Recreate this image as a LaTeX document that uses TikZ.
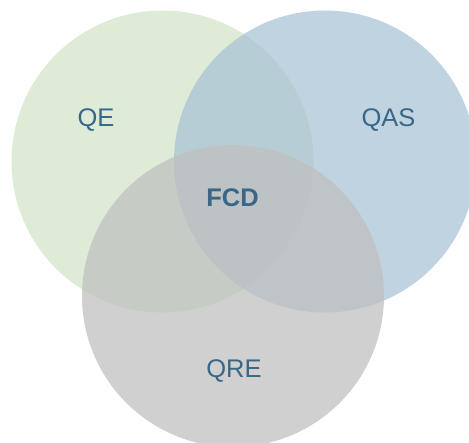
\documentclass[tikz,border=0pt]{standalone}
\usepackage{fontspec}
\setmainfont{Liberation Sans}
\definecolor{cgreen}{RGB}{210,228,202}
\definecolor{cblue}{RGB}{171,196,214}
\definecolor{cgray}{RGB}{192,192,192}
\definecolor{ctext}{RGB}{58,102,135}
\tikzset{
  venn/.style={fill opacity=0.75, draw=none},
  lbl/.style={text=ctext, font=\fontsize{25.5}{28}\selectfont, inner sep=0pt}
}
\begin{document}
\begin{tikzpicture}[x=1pt,y=-1pt]
\useasboundingbox (0,0) rectangle (469,443);
\fill[venn, cgreen] (162.5,161.5) circle (151);
\fill[venn, cblue] (325,161.5) circle (151);
\fill[venn, cgray] (233,296) circle (151);
\node[lbl] (qe) at (96,120.5) {QE};
\node[lbl] (qas) at (388.5,120.5) {QAS};
\node[lbl, font=\fontsize{25.5}{28}\selectfont\bfseries] (fcd) at (232.5,198) {FCD};
\node[lbl] (qre) at (234,371) {QRE};
\end{tikzpicture}
\end{document}
